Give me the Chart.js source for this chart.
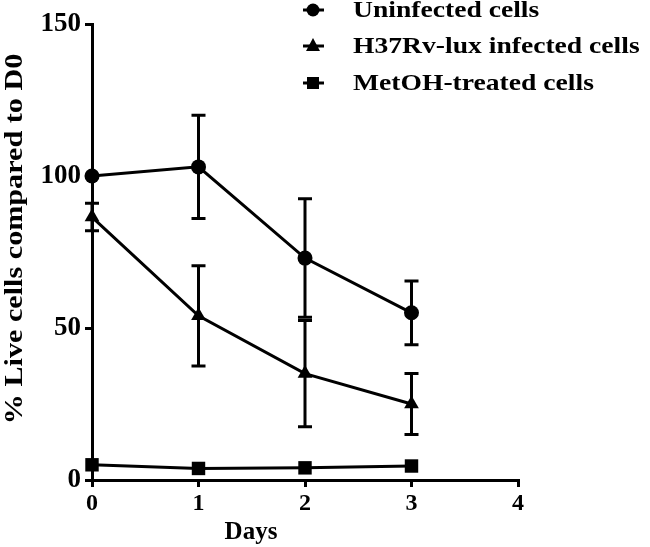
<!DOCTYPE html>
<html>
<head>
<meta charset="utf-8">
<script src="https://cdn.jsdelivr.net/npm/chart.js@4.4.1/dist/chart.umd.min.js"></script>
<style>
    body { margin: 0; background: #fff; }
    #wrap { position: relative; width: 650px; height: 547px; }
</style>
</head>
<body>
<div id="wrap"><canvas id="survivalChart"></canvas></div>
<script>
// Days after infection
const days = [0, 1, 2, 3];
const xTicks = [0, 1, 2, 3, 4];
const yTicks = [0, 50, 100, 150];

// % live cells compared to D0 (mean, SD)
const uninfected = [100, 103, 73, 55];
const uninfectedErr = [0, 17, 19.5, 10.5];
const h37rv = [86.5, 54, 35, 25];
const h37rvErr = [4.5, 16.5, 17.5, 10];
const metoh = [5, 3.8, 4, 4.6];
const metohErr = [0, 0, 0, 0];

const seriesNames = ['Uninfected cells', 'H37Rv-lux infected cells', 'MetOH-treated cells'];
const seriesErrs = [uninfectedErr, h37rvErr, metohErr];

const serif = '"Liberation Serif", "Times New Roman", serif';

function toPoints(values) {
    return days.map((d, i) => ({ x: d, y: values[i] }));
}

// text stretched along its direction (the original glyphs are wide)
function wideText(ctx, text, x, y, stretch) {
    ctx.save();
    ctx.translate(x, y);
    ctx.scale(stretch, 1);
    ctx.fillText(text, 0, 0);
    ctx.restore();
}

const errorBars = {
    id: 'errorBars',
    beforeDatasetsDraw(chart) {
        const ctx = chart.ctx;
        const xs = chart.scales.x, ys = chart.scales.y;
        ctx.save();
        ctx.strokeStyle = '#000';
        ctx.lineWidth = 3;
        chart.data.datasets.forEach((ds, di) => {
            const errs = seriesErrs[di];
            ds.data.forEach((p, i) => {
                const e = errs[i];
                if (!e) return;
                const px = xs.getPixelForValue(p.x);
                const top = ys.getPixelForValue(p.y + e);
                const bot = ys.getPixelForValue(p.y - e);
                ctx.beginPath();
                ctx.moveTo(px, top); ctx.lineTo(px, bot);
                ctx.moveTo(px - 7, top); ctx.lineTo(px + 7, top);
                ctx.moveTo(px - 7, bot); ctx.lineTo(px + 7, bot);
                ctx.stroke();
            });
        });
        ctx.restore();
    }
};

const labelsPlugin = {
    id: 'labelsPlugin',
    afterDraw(chart) {
        const ctx = chart.ctx;
        ctx.save();
        ctx.fillStyle = '#000';
        ctx.strokeStyle = '#000';

        // y axis title
        ctx.font = 'bold 26px ' + serif;
        ctx.textBaseline = 'middle';
        ctx.textAlign = 'center';
        ctx.save();
        ctx.translate(15, 239);
        ctx.rotate(-Math.PI / 2);
        wideText(ctx, '% Live cells compared to D0', 0, 0, 1.16);
        ctx.restore();

        // x axis title
        ctx.font = 'bold 25px ' + serif;
        ctx.fillText('Days', 251, 533);

        // legend
        ctx.textAlign = 'left';
        ctx.font = 'bold 23px ' + serif;
        const rows = [10, 46, 83];
        rows.forEach((ry, i) => {
            ctx.lineWidth = 3;
            ctx.beginPath();
            ctx.moveTo(303, ry); ctx.lineTo(324, ry);
            ctx.stroke();
            ctx.beginPath();
            if (i === 0) {
                ctx.arc(313, ry, 6.5, 0, Math.PI * 2);
            } else if (i === 1) {
                ctx.moveTo(313, ry - 8); ctx.lineTo(320, ry + 5); ctx.lineTo(306, ry + 5); ctx.closePath();
            } else {
                ctx.rect(307, ry - 6, 12, 12);
            }
            ctx.fill();
            wideText(ctx, seriesNames[i], 353, ry + 1, 1.2);
        });
        ctx.restore();
    }
};

const ds = (label, values, style, radius) => ({
    label: label,
    data: toPoints(values),
    borderColor: '#000',
    backgroundColor: '#000',
    borderWidth: 3,
    pointStyle: style,
    pointRadius: radius,
    pointBorderWidth: 0,
    showLine: true,
    tension: 0,
    clip: false
});

new Chart(document.getElementById('survivalChart'), {
    type: 'scatter',
    data: {
        datasets: [
            ds(seriesNames[0], uninfected, 'circle', 7.5),
            ds(seriesNames[1], h37rv, 'triangle', 8.5),
            ds(seriesNames[2], metoh, 'rect', 9.5)
        ]
    },
    options: {
        responsive: true,
        maintainAspectRatio: false,
        animation: false,
        layout: { padding: { left: 0, top: 24, right: 132, bottom: 0 } },
        plugins: {
            legend: { display: false },
            tooltip: { enabled: false }
        },
        scales: {
            x: {
                type: 'linear',
                min: 0,
                max: 4,
                afterFit: s => { s.height = 67; },
                afterBuildTicks: s => { s.ticks = xTicks.map(v => ({ value: v })); },
                border: { display: true, color: '#000', width: 3 },
                grid: { display: true, drawOnChartArea: false, drawTicks: true, tickLength: 7, color: '#000', lineWidth: 3 },
                ticks: { color: '#000', padding: 2, font: { family: serif, size: 24, weight: 'bold' } }
            },
            y: {
                min: 0,
                max: 150,
                afterFit: s => { s.width = 92; },
                afterBuildTicks: s => { s.ticks = yTicks.map(v => ({ value: v })); },
                border: { display: true, color: '#000', width: 3 },
                grid: { display: true, drawOnChartArea: false, drawTicks: true, tickLength: 7, color: '#000', lineWidth: 3 },
                ticks: { color: '#000', padding: 4, font: { family: serif, size: 27, weight: 'bold' } }
            }
        }
    },
    plugins: [errorBars, labelsPlugin]
});
</script>
</body>
</html>
